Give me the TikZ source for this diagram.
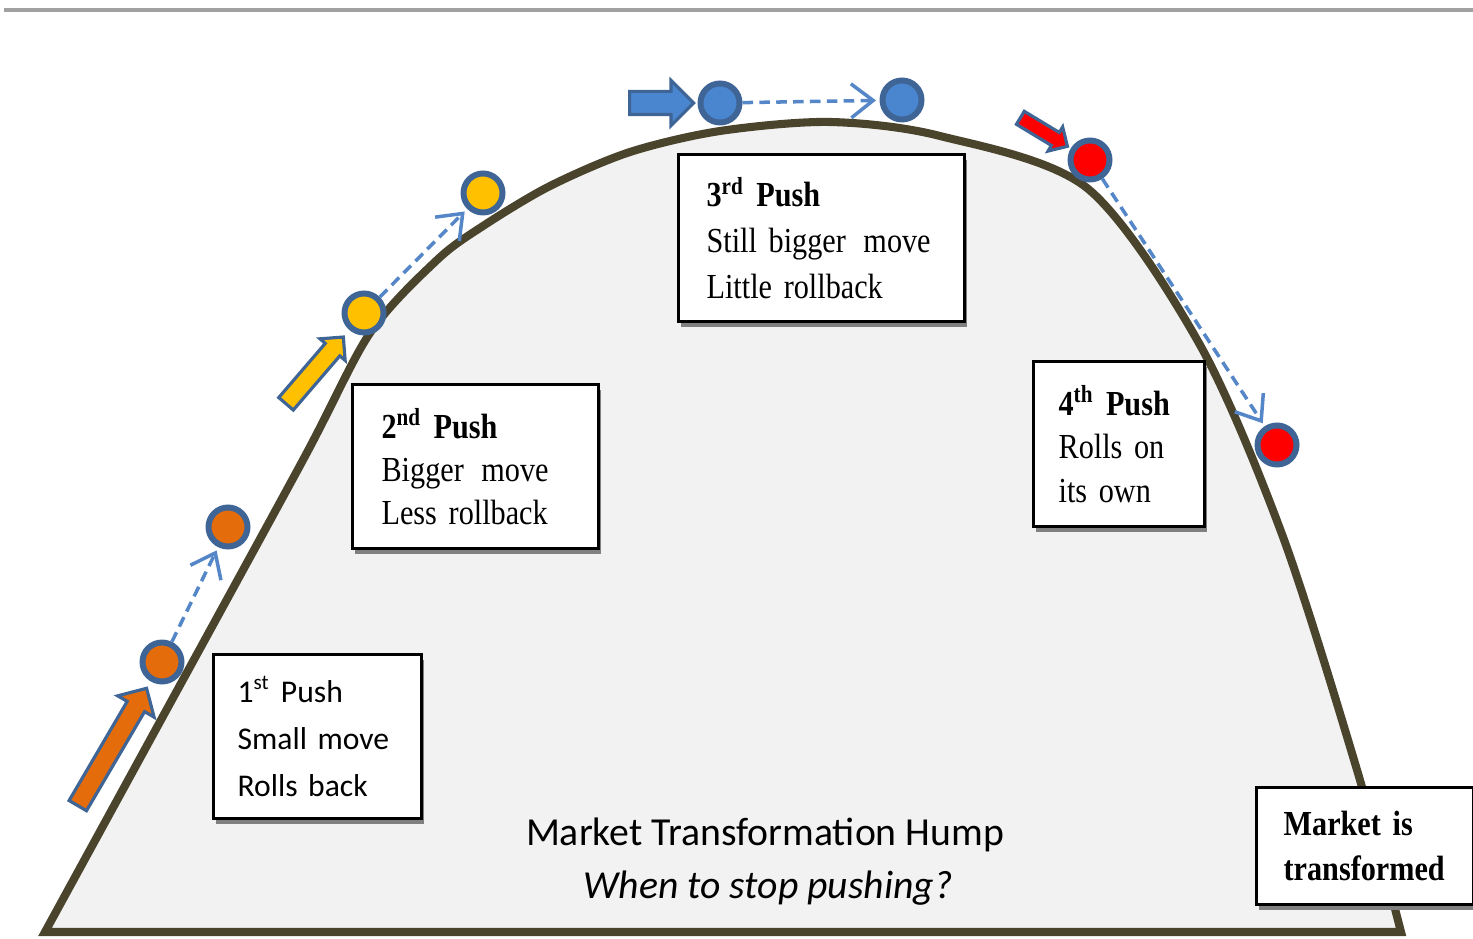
\documentclass[tikz,border=0pt]{standalone}
\usepackage{fontspec}
\setmainfont{Liberation Serif}[FakeStretch=0.86]
\newfontfamily\calib{Carlito}
\usetikzlibrary{arrows.meta}
\usetikzlibrary{shapes.arrows}
\usetikzlibrary{shadows}

\definecolor{humpline}{RGB}{75,68,45}
\definecolor{humpfill}{RGB}{242,242,242}
\definecolor{rim}{RGB}{62,101,150}
\definecolor{dashblue}{RGB}{85,135,200}
\definecolor{pushorange}{RGB}{228,108,10}
\definecolor{pushyellow}{RGB}{255,192,0}
\definecolor{pushblue}{RGB}{74,134,207}
\definecolor{pushred}{RGB}{255,0,0}

\tikzset{
  hump/.style={draw=humpline, fill=humpfill, line width=2.3pt, line join=miter},
  topline/.style={draw=black!37, line width=1.2pt},
  ball/.style={circle, draw=rim, line width=1.7pt, minimum size=0.39cm, inner sep=0pt},
  pusharrow/.style={single arrow, draw=rim, line width=0.9pt, inner xsep=0pt,
    single arrow head indent=0pt, sloped, pos=0, anchor=tail},
  rollpath/.style={draw=dashblue, line width=1pt, dash pattern=on 3pt off 1.8pt,
    -{Straight Barb[length=2.2mm,width=3.4mm]}, shorten >=1pt},
  pushbox/.style={draw=black, line width=0.9pt, fill=white, anchor=north west,
    align=left, inner ysep=0pt,
    drop shadow={shadow xshift=0.02cm, shadow yshift=-0.05cm, fill=black!50, opacity=1}},
  sansbox/.style={font={\calib\fontsize{9}{13.4}\selectfont}},
  serifbox/.style={font={\fontsize{10}{#1}\selectfont}}
}

\begin{document}
\begin{tikzpicture}
\useasboundingbox (0,0) rectangle (14.73,9.38);

% rule at the top
\draw[topline] (0.04,9.28) -- (14.73,9.28);

% the hump
\filldraw[hump] plot[smooth, tension=0.5] coordinates {
  (0.45,0.06) (1.50,1.98) (3.03,4.78) (3.70,6.05) (4.37,6.78)
  (4.83,7.12) (5.50,7.52) (6.30,7.86) (7.20,8.07) (8.30,8.16) (9.40,8.02)
  (10.87,7.50) (12.00,5.93) (12.83,4.01) (13.57,1.68) (14.01,0.06)} -- cycle;

% balls
\node[ball, fill=pushorange] (o1) at (1.62,2.76) {};
\node[ball, fill=pushorange] (o2) at (2.28,4.11) {};
\node[ball, fill=pushyellow] (y1) at (3.64,6.25) {};
\node[ball, fill=pushyellow] (y2) at (4.83,7.45) {};
\node[ball, fill=pushblue] (b1) at (7.20,8.35) {};
\node[ball, fill=pushblue] (b2) at (9.02,8.38) {};
\node[ball, fill=pushred] (r1) at (10.90,7.78) {};
\node[ball, fill=pushred] (r2) at (12.77,4.93) {};

% rolls
\draw[rollpath] (o1) -- (o2);
\draw[rollpath] (y1) -- (y2);
\draw[rollpath] (b1) -- (b2);
\draw[rollpath] (r1) -- (r2);

% pushes
\coordinate (t1) at (0.77,1.31);
\coordinate (t2) at (2.85,5.33);
\coordinate (t3) at (6.28,8.35);
\coordinate (t4) at (10.19,8.21);
\path (t1) -- (o1) node[pusharrow, fill=pushorange, minimum height=1.36cm,
  inner ysep=0.085cm, single arrow head extend=0.11cm] (a1) {};
\path (t2) -- (y1) node[pusharrow, fill=pushyellow, minimum height=0.88cm,
  inner ysep=0.08cm, single arrow head extend=0.07cm] (a2) {};
\path (t3) -- (b1) node[pusharrow, fill=pushblue, minimum height=0.64cm,
  inner ysep=0.1cm, single arrow head extend=0.11cm] (a3) {};
\path (t4) -- (r1) node[pusharrow, fill=pushred, minimum height=0.55cm,
  inner ysep=0.06cm, single arrow head extend=0.065cm] (a4) {};

% boxes
\node[pushbox, sansbox, minimum height=1.64cm, text width=1.6cm, inner xsep=0.24cm]
  (push1) at (2.12,2.85) {1\textsuperscript{st} Push\\Small move\\Rolls back};
\node[pushbox, serifbox=12.3, minimum height=1.64cm, text width=1.88cm, inner xsep=0.29cm]
  (push2) at (3.51,5.55) {\textbf{2\textsuperscript{nd} Push}\\Bigger\ \,move\\Less rollback};
\node[pushbox, serifbox=13.1, minimum height=1.67cm, text width=2.30cm, inner xsep=0.28cm]
  (push3) at (6.77,7.85) {\textbf{3\textsuperscript{rd} Push}\\Still bigger\ \,move\\Little rollback};
\node[pushbox, serifbox=12.3, minimum height=1.65cm, text width=1.21cm, inner xsep=0.25cm]
  (push4) at (10.32,5.78) {\textbf{4\textsuperscript{th} Push}\\Rolls on\\its own};
\node[pushbox, serifbox=12.8, minimum height=1.17cm, text width=1.63cm, inner xsep=0.27cm]
  (done) at (12.55,1.52) {\textbf{Market is}\\\textbf{transformed}};

% caption
\node[font={\calib\fontsize{11.3}{14}\selectfont}, anchor=base] (title) at (7.65,0.93)
  {Market Transformation Hump};
\node[font={\calib\itshape\fontsize{11.3}{14}\selectfont}, anchor=base] (question) at (7.68,0.40)
  {When to stop pushing?};
\end{tikzpicture}
\end{document}
